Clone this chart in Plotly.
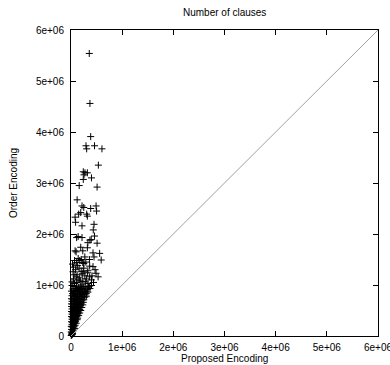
import plotly.graph_objects as go

# Estimated values (number of clauses)
proposed = [
    357000, 370000, 385000, 293000, 306000, 460000, 605000, 535000, 240000, 273000,
    320000, 254000, 240000, 400000, 160000, 510000, 120000, 215000, 250000, 490000,
    385000, 500000, 190000, 150000, 306000, 80000, 320000, 90000, 215000, 450000,
    435000, 460000, 110000, 140000, 215000, 370000, 395000, 510000, 190000, 320000,
    330000, 100000, 230000, 430000, 560000, 270000, 450000, 590000, 70000, 170000,
    230000, 80000, 140000, 365000, 430000, 40000, 200000, 330000, 490000, 100000,
    270000, 365000, 530000, 140000, 230000, 400000, 70000, 200000, 330000, 365000,
    50000, 120000, 170000, 220000, 300000, 90000, 250000, 130000, 290000, 50000,
    200000, 360000, 110000, 280000, 440000, 470000,
    30000, 160000, 250000, 60000, 320000, 180000, 110000, 410000, 20000, 240000,
    20000, 60000, 110000, 150000, 190000, 250000, 290000, 340000, 400000,
    40000, 90000, 130000, 170000, 220000, 270000, 320000, 370000,
    10000, 50000, 80000, 120000, 160000, 200000, 240000, 280000, 330000,
    30000, 70000, 100000, 140000, 180000, 220000, 260000, 300000,
    20000, 50000, 90000, 120000, 160000, 190000, 230000, 270000, 300000,
    10000, 40000, 70000, 100000, 130000, 170000, 210000, 250000,
    20000, 50000, 80000, 110000, 140000, 180000, 210000, 240000,
    10000, 40000, 70000, 100000, 130000, 160000, 200000, 230000,
    10000, 40000, 60000, 90000, 120000, 150000, 180000, 210000,
    20000, 50000, 80000, 110000, 140000, 170000, 190000,
    10000, 30000, 60000, 90000, 120000, 150000, 170000,
    20000, 40000, 70000, 100000, 130000, 150000,
    10000, 30000, 50000, 80000, 110000, 130000,
    20000, 40000, 70000, 90000, 120000,
    10000, 30000, 50000, 70000, 90000, 100000,
    20000, 40000, 60000, 80000,
    5000, 20000, 40000, 60000, 70000,
    10000, 30000, 50000, 40000,
    5000, 20000, 30000, 10000, 15000, 5000, 25000,
]
order = [
    5540000, 4560000, 3910000, 3730000, 3670000, 3730000, 3670000, 3350000, 3220000, 3200000,
    3200000, 3160000, 3070000, 3100000, 2950000, 2920000, 2670000, 2550000, 2520000, 2550000,
    2500000, 2450000, 2420000, 2390000, 2390000, 2330000, 2350000, 2230000, 2160000, 2190000,
    2080000, 1960000, 1930000, 1950000, 1930000, 1880000, 1890000, 1820000, 1740000, 1730000,
    1830000, 1650000, 1670000, 1630000, 1620000, 1550000, 1550000, 1490000, 1480000, 1480000,
    1440000, 1670000, 1520000, 1370000, 1360000, 1260000, 1260000, 1280000, 1230000, 1160000,
    1180000, 1160000, 1160000, 1100000, 1070000, 1100000, 1030000, 1000000, 1030000, 980000,
    1120000, 1200000, 1140000, 1220000, 1120000, 1300000, 1330000, 1380000, 1450000, 1350000,
    1500000, 1500000, 1050000, 1060000, 1050000, 1300000,
    1410000, 1330000, 1420000, 1200000, 1240000, 1080000, 1440000, 1180000, 1060000, 1270000,
    990000, 970000, 980000, 950000, 960000, 970000, 940000, 960000, 990000,
    920000, 930000, 900000, 910000, 930000, 900000, 910000, 930000,
    880000, 870000, 890000, 860000, 870000, 880000, 850000, 870000, 860000,
    830000, 820000, 840000, 810000, 830000, 820000, 810000, 830000,
    790000, 770000, 780000, 760000, 790000, 770000, 780000, 760000, 780000,
    730000, 720000, 740000, 710000, 730000, 720000, 740000, 710000,
    680000, 670000, 690000, 660000, 680000, 670000, 690000, 660000,
    630000, 620000, 640000, 610000, 630000, 620000, 630000, 610000,
    580000, 570000, 590000, 560000, 580000, 570000, 590000, 560000,
    530000, 520000, 540000, 510000, 530000, 520000, 500000,
    480000, 470000, 490000, 460000, 480000, 470000, 450000,
    430000, 420000, 440000, 410000, 430000, 400000,
    380000, 370000, 390000, 360000, 380000, 350000,
    330000, 320000, 340000, 310000, 320000,
    280000, 270000, 290000, 260000, 280000, 250000,
    230000, 220000, 240000, 210000,
    190000, 180000, 170000, 190000, 150000,
    130000, 120000, 140000, 100000,
    80000, 70000, 50000, 40000, 20000, 10000, 30000,
]
diag = [0, 6000000]
tick_vals = [0, 1000000, 2000000, 3000000, 4000000, 5000000, 6000000]
tick_text = ["0", "1e+06", "2e+06", "3e+06", "4e+06", "5e+06", "6e+06"]

FONT = "Liberation Sans, Arial, sans-serif"

fig = go.Figure()
fig.add_trace(go.Scatter(
    x=proposed, y=order, mode="markers",
    marker=dict(symbol="cross-thin", size=5, line=dict(width=1, color="black"), color="black"),
    hoverinfo="x+y", showlegend=False, cliponaxis=False,
))
fig.add_trace(go.Scatter(
    x=diag, y=diag, mode="lines",
    line=dict(color="#a0a0a0", width=1), showlegend=False, hoverinfo="skip",
))

axis_common = dict(
    range=[0, 6000000], tickvals=tick_vals, ticktext=tick_text,
    ticks="inside", ticklen=5, tickwidth=1, tickcolor="black",
    showline=True, linecolor="black", linewidth=1, mirror="ticks",
    showgrid=False, zeroline=False, automargin=False,
    ticklabeloverflow="allow",
    tickfont=dict(family=FONT, size=10, color="black"),
)

fig.update_layout(
    width=390, height=365,
    margin=dict(l=71, r=12, t=30, b=29),
    paper_bgcolor="white", plot_bgcolor="white",
    xaxis=dict(**axis_common, ticklabelstandoff=2),
    yaxis=dict(**axis_common, ticklabelstandoff=4),
    annotations=[
        dict(text="Number of clauses", xref="paper", yref="paper", x=0.5, y=1,
             yshift=18, showarrow=False, font=dict(family=FONT, size=10, color="black"),
             xanchor="center", yanchor="middle"),
        dict(text="Proposed Encoding", xref="paper", yref="paper", x=0.5, y=0,
             yshift=-22, showarrow=False, font=dict(family=FONT, size=10, color="black"),
             xanchor="center", yanchor="middle"),
        dict(text="Order Encoding", xref="paper", yref="paper", x=0, y=0.5,
             xshift=-58, showarrow=False, textangle=-90,
             font=dict(family=FONT, size=10, color="black"),
             xanchor="center", yanchor="middle"),
    ],
)

fig.write_html("out.html", config={"displayModeBar": False},
               post_script="document.body.style.margin='0';document.body.style.overflow='hidden';")
